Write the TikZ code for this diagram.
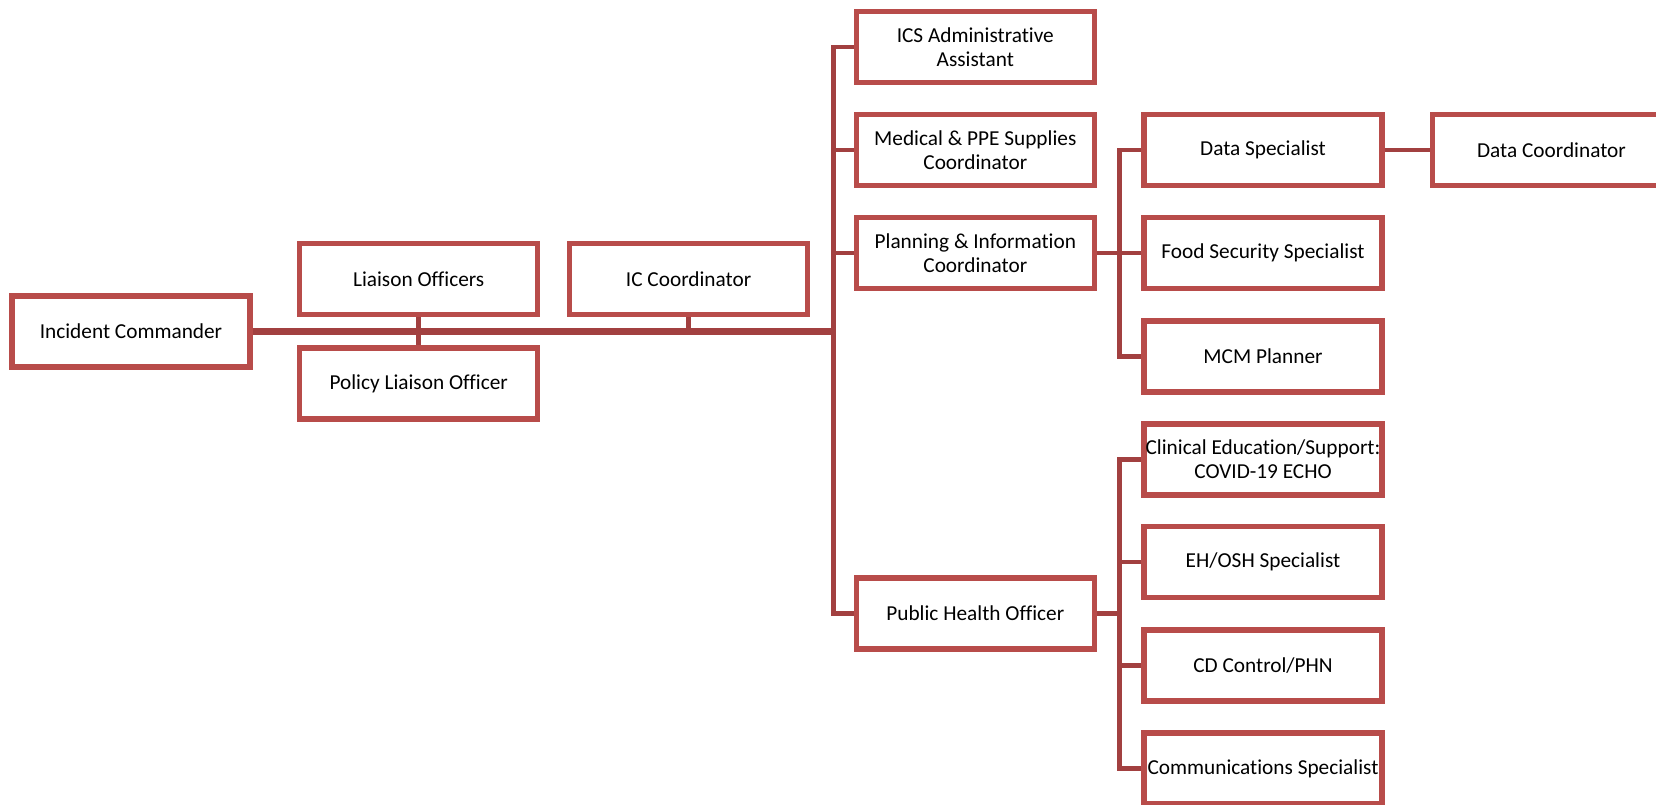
\documentclass[tikz,border=0pt]{standalone}
\usepackage{fontspec}
\setmainfont{Carlito}[Ligatures={NoCommon}]
\begin{document}
\begin{tikzpicture}[x=1pt,y=-1pt,
  orgbox/.style={draw=boxred, line width=5.5pt, minimum width=238pt, minimum height=71pt,
    inner sep=0pt, align=center, font=\fontsize{21.3}{24.5}\selectfont},
  orglink/.style={draw=linkred, line width=4.5pt, line join=miter},
  mainlink/.style={draw=linkred, line width=7pt}]
\definecolor{boxred}{RGB}{184,76,74}
\definecolor{linkred}{RGB}{162,64,64}
\useasboundingbox (0,0) rectangle (1656,804);
% nodes
\node[orgbox] (ic) at (131,331.6) {Incident Commander};
\node[orgbox] (lo) at (418.7,278.8) {Liaison Officers};
\node[orgbox] (plo) at (418.7,383.4) {Policy Liaison Officer};
\node[orgbox] (icc) at (688.6,278.8) {IC Coordinator};
\node[orgbox] (ics) at (975.3,47) {ICS Administrative\\Assistant};
\node[orgbox] (med) at (975.3,150) {Medical \& PPE Supplies\\Coordinator};
\node[orgbox] (pic) at (975.3,253) {Planning \& Information\\Coordinator};
\node[orgbox] (pho) at (975.3,613.6) {Public Health Officer};
\node[orgbox] (ds) at (1263,150) {Data Specialist};
\node[orgbox] (fs) at (1263,253) {Food Security Specialist};
\node[orgbox] (mcm) at (1263,356.4) {MCM Planner};
\node[orgbox] (dc) at (1551.5,150) {Data Coordinator};
\node[orgbox] (ce) at (1263,459.4) {Clinical Education/Support:\\COVID-19 ECHO};
\node[orgbox] (eh) at (1263,561.8) {EH/OSH Specialist};
\node[orgbox] (cd) at (1263,665.3) {CD Control/PHN};
\node[orgbox] (cs) at (1263,768.5) {Communications Specialist};
% trunk coordinates
\coordinate (tr) at (833.3,0);
\coordinate (st) at (1119.5,0);
% connectors
\draw[mainlink] (ic.east) -- (ic.east -| tr);
\draw[orglink] (lo.south) -- (plo.north);
\draw[orglink] (icc.south) -- (icc.south |- ic.east);
\draw[orglink] (ics.west) -- (ics.west -| tr) -- (pho.west -| tr) -- (pho.west);
\draw[orglink] (med.west) -- (med.west -| tr);
\draw[orglink] (pic.west) -- (pic.west -| tr);
\draw[orglink] (pic.east) -- (pic.east -| st);
\draw[orglink] (ds.west) -- (ds.west -| st) -- (mcm.west -| st) -- (mcm.west);
\draw[orglink] (fs.west) -- (fs.west -| st);
\draw[orglink] (ds.east) -- (dc.west);
\draw[orglink] (pho.east) -- (pho.east -| st);
\draw[orglink] (ce.west) -- (ce.west -| st) -- (cs.west -| st) -- (cs.west);
\draw[orglink] (eh.west) -- (eh.west -| st);
\draw[orglink] (cd.west) -- (cd.west -| st);
\end{tikzpicture}
\end{document}
